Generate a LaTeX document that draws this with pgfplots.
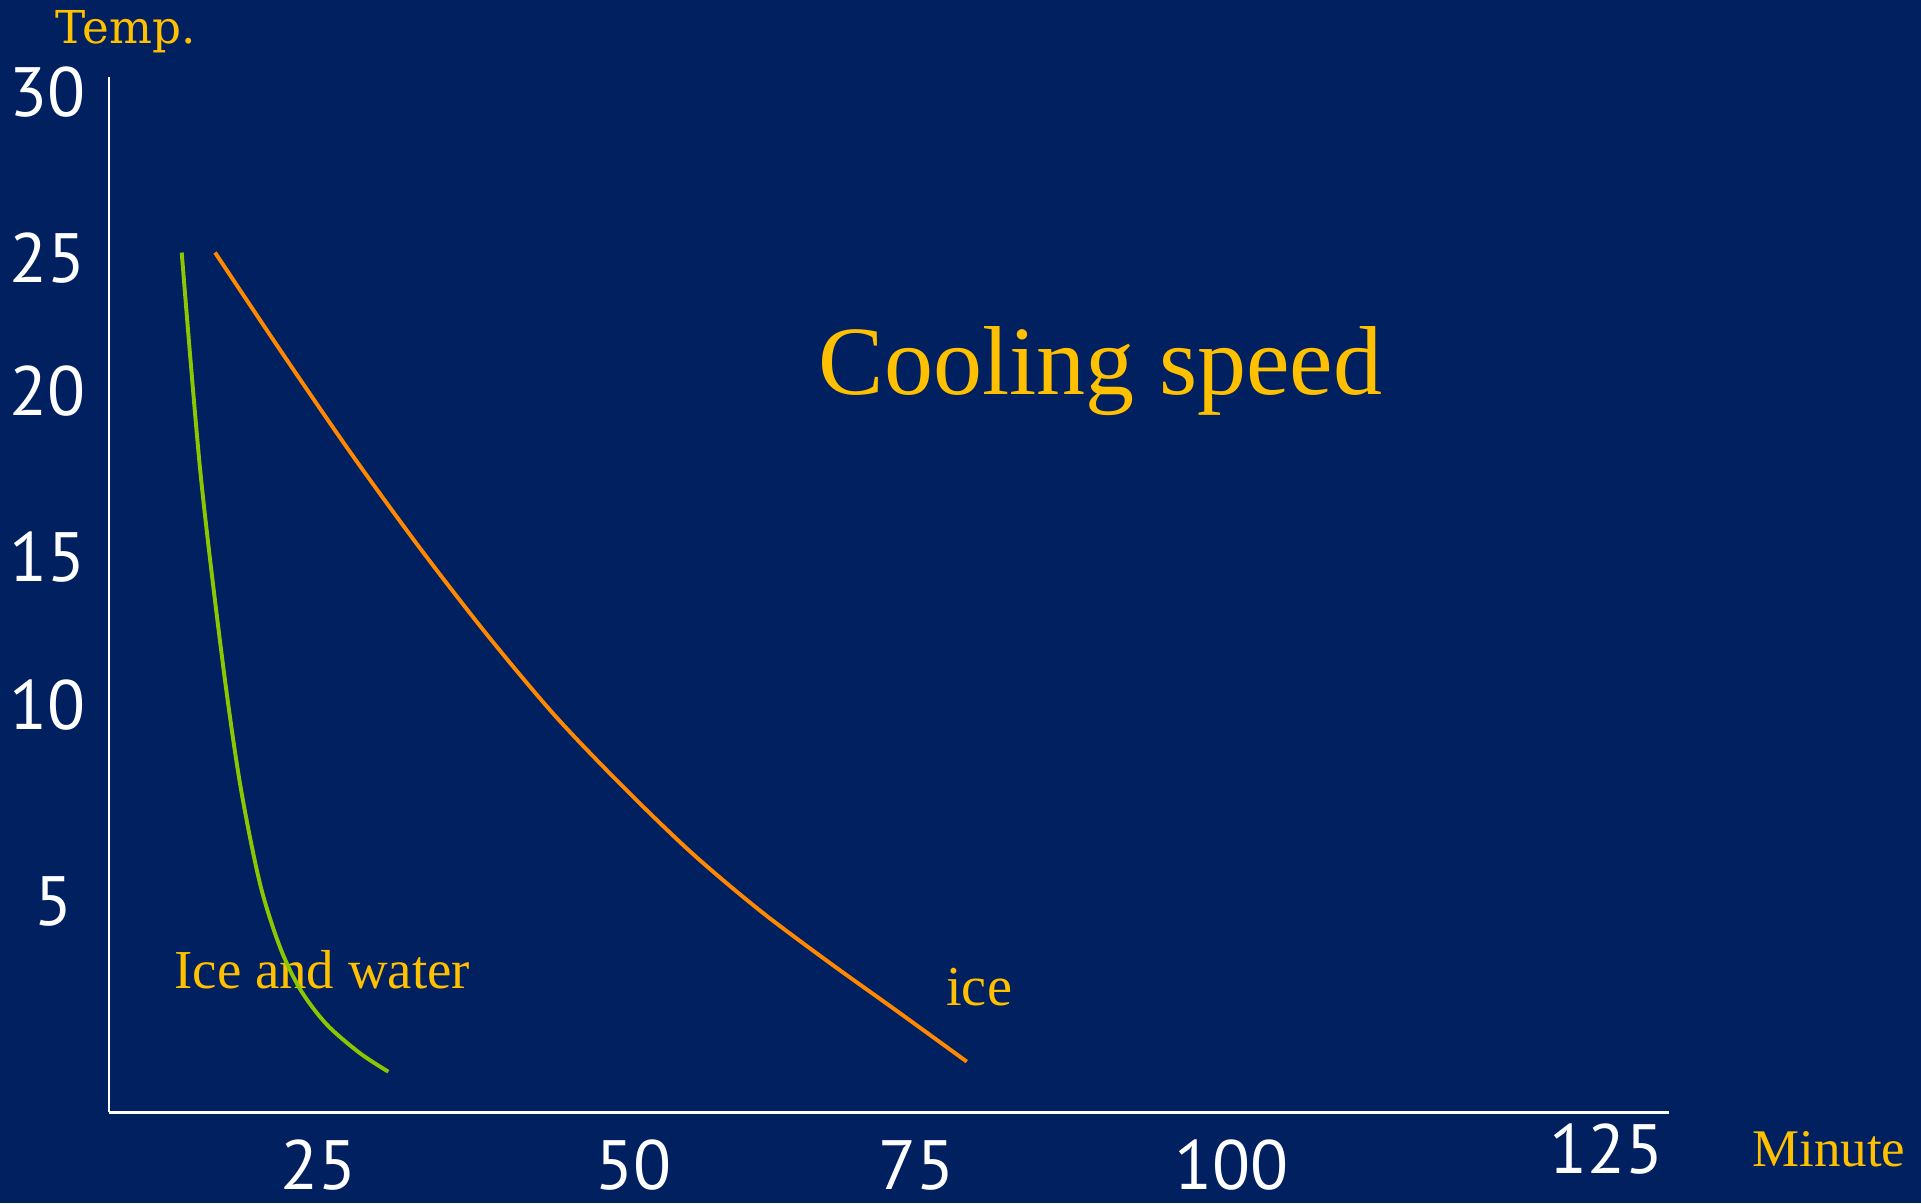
\documentclass[border=0pt]{standalone}
\usepackage{pgfplots}
\pgfplotsset{compat=1.18}
\usepackage{fontspec}
\setmainfont{Liberation Serif}
\newfontfamily\tickfont{PT Sans}
\newfontfamily\dejaserif{DejaVu Serif}
\definecolor{bg}{RGB}{0,32,96}
\definecolor{ylw}{RGB}{255,192,0}
\definecolor{grn}{RGB}{140,198,0}
\definecolor{org}{RGB}{255,136,0}
\begin{document}
\begin{tikzpicture}
\fill[bg] (0,0) rectangle (784pt,-491pt);
\path[use as bounding box] (0,0) rectangle (784pt,-491pt);
\begin{axis}[
  at={(44.5pt,-454pt)}, anchor=south west,
  scale only axis, width=636.5pt, height=422.5pt,
  xmin=8.5, xmax=129.74, ymin=0, ymax=32.0,
  clip=false,
  axis x line=bottom, axis y line=left,
  axis line style={white, line width=1pt, -},
  major tick length=0pt,
  /pgf/number format/assume math mode=true,
  tick label style={font=\tickfont\fontsize{28.5}{30}\selectfont, text=white, inner sep=0pt},
  xtick={24.79,49.26,71.26,95.74}, xticklabels={25,50,75,100},
  xticklabel style={anchor=base, yshift=-31.5pt},
  extra x ticks={124.88}, extra x tick labels={125},
  extra x tick style={xticklabel style={yshift=6.5pt}},
  ytick={12.58,17.16,22.31,26.40,31.55}, yticklabels={10,15,20,25,30},
  yticklabel style={anchor=west, xshift=-41pt},
  extra y ticks={6.52}, extra y tick labels={5},
  extra y tick style={yticklabel style={anchor=east, xshift=26.5pt}},
  xlabel={Minute}, ylabel={Temp.},
  every axis x label/.style={at={(axis description cs:1.0534,-0.052)}, anchor=base west, inner sep=0pt, font=\fontsize{21.6}{24}\selectfont, text=ylw},
  every axis y label/.style={at={(axis description cs:-0.0346,1.033)}, anchor=base west, inner sep=0pt, font=\dejaserif\fontsize{18.5}{20}\selectfont, text=ylw},
]
\node[anchor=base west, inner sep=0pt, text=ylw, font=\fontsize{40}{44}\selectfont] at (axis cs:63.64,22.2) {Cooling speed};
\node[anchor=base west, inner sep=0pt, text=ylw, font=\fontsize{22.4}{24}\selectfont] at (axis cs:13.55,3.845) {Ice and water};
\node[anchor=base west, inner sep=0pt, text=ylw, font=\fontsize{23}{24}\selectfont] at (axis cs:73.55,3.30) {ice};
\addplot[grn, line width=1.6pt, smooth] coordinates {
(14.15,26.58) (15.60,19.80) (17.31,13.99) (18.68,10.17) (20.23,7.08) (21.80,5.10) (23.40,3.78) (25.42,2.72) (28.01,1.83) (30.21,1.26)
};
\addplot[org, line width=1.6pt, smooth] coordinates {
(16.74,26.58) (22.0,23.45) (27.3,20.38) (32.6,17.48) (37.9,14.76) (43.2,12.25) (48.5,10.05) (53.8,8.02) (59.1,6.24) (64.4,4.66) (69.7,3.15) (75.18,1.57)
};
\end{axis}
\end{tikzpicture}
\end{document}
